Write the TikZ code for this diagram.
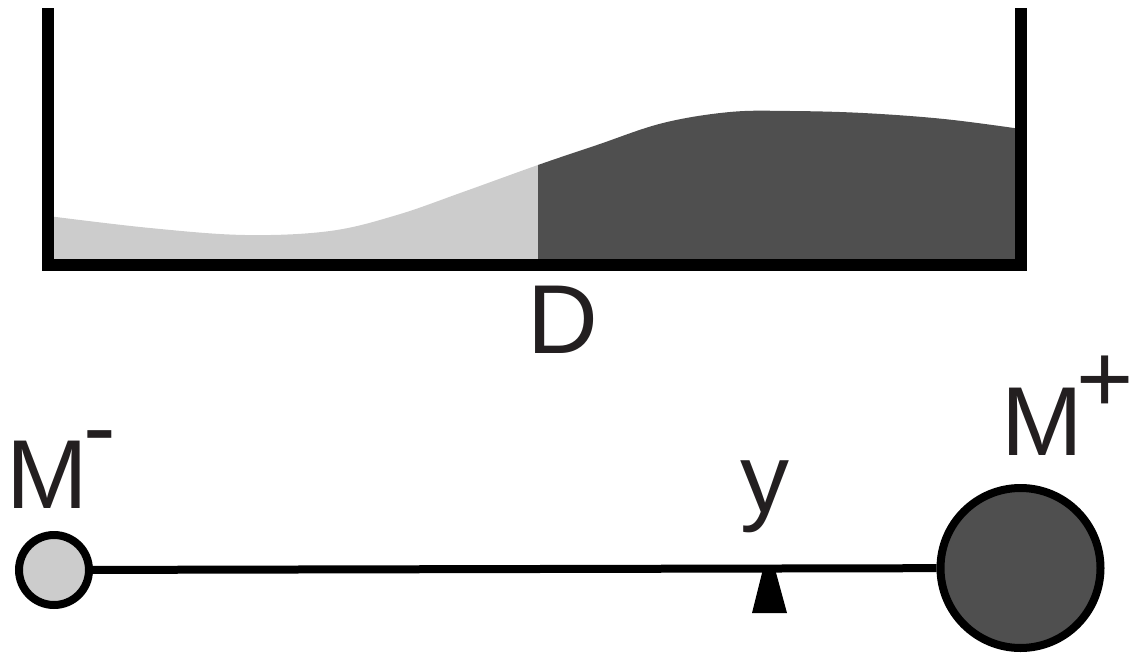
\documentclass[tikz,border=0pt]{standalone}
\usepackage{fontspec}
\setmainfont{Liberation Sans}
\definecolor{Surflight}{HTML}{CCCCCC}
\definecolor{Surfdark}{HTML}{4F4F4F}
\definecolor{Inkblack}{HTML}{231F20}

\begin{document}
\begin{tikzpicture}[x=1pt,y=-1pt,
		lbl/.style={inner sep=0pt,text=Inkblack,font=\fontsize{98}{110}\selectfont},
		ball/.style={circle,draw=black,line width=8pt,inner sep=0pt}]
	\useasboundingbox (0,0) rectangle (1133,653);
	% profile in the box
	\begin{scope}
		\clip (48,264) -- plot[smooth,tension=0.6] coordinates {(48,216) (150,228) (245,235)
				(330,231) (397,215) (463,192) (538,165)
				(597,145) (663,123) (730,112) (790,111)
				(863,113) (944,119) (1021,129)} -- (1021,264) -- cycle;
		\fill[Surflight] (40,100) rectangle (538,270);
		\fill[Surfdark] (538,100) rectangle (1030,270);
	\end{scope}
	\draw[line width=12pt,miter limit=4] (48,8) -- (48,264.5) -- (1021,264.5) -- (1021,8);
	\node[lbl,anchor=base] (dlab) at (563,353) {D};
	% balance
	\node[ball,fill=Surflight,minimum size=70pt] (mminus) at (54,570) {};
	\node[ball,fill=Surfdark,minimum size=160pt] (mplus) at (1020.5,568) {};
	\draw[line width=8pt] (mminus) -- (mplus);
	\fill[black] (763,569) -- (775,569) -- (787,613) -- (752,613) -- cycle;
	\node[lbl,anchor=base] (ylab) at (764.5,512) {y};
	\node[lbl,anchor=base west] (mmlab) at (6,508) {M\kern-4pt\raisebox{48pt}{-}};
	\node[lbl,anchor=base west] (mplab) at (1001,455) {M\kern-6pt\raisebox{43pt}{+}};
\end{tikzpicture}
\end{document}
